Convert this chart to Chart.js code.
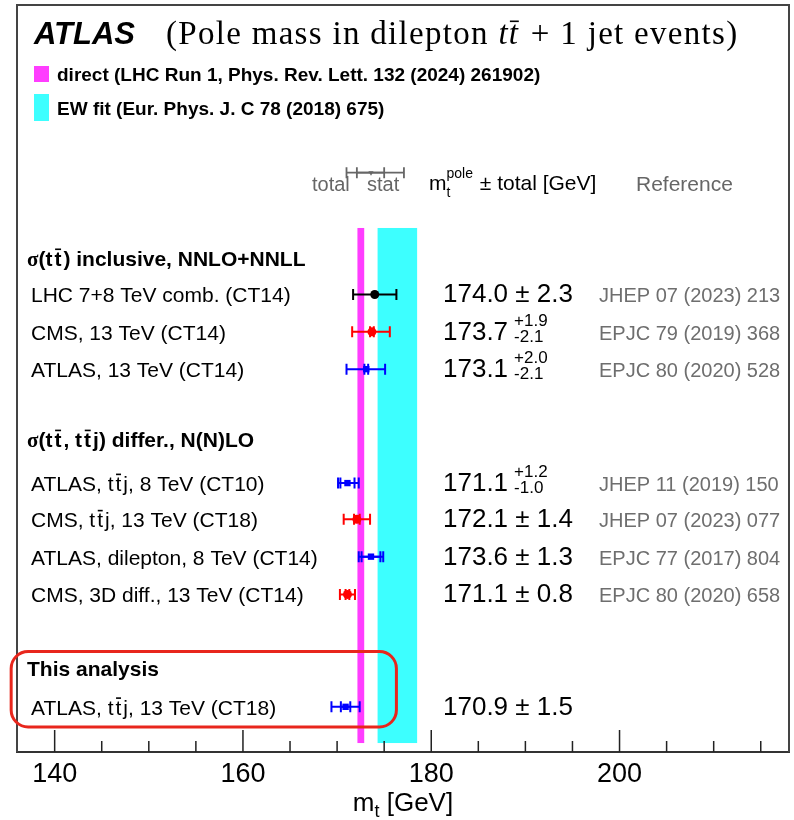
<!DOCTYPE html>
<html>
<head>
<meta charset="utf-8">
<script src="https://cdn.jsdelivr.net/npm/chart.js@4.4.1/dist/chart.umd.min.js"></script>
<style>
  html, body { margin: 0; padding: 0; background: #fff; }
  #wrap { width: 794px; height: 820px; }
</style>
</head>
<body>
<div id="wrap"><canvas id="massChart" width="794" height="820"></canvas></div>
<script>
// measurements of the top-quark pole mass (GeV)
const labels = [
    'LHC 7+8 TeV comb. (CT14)',
    'CMS, 13 TeV (CT14)',
    'ATLAS, 13 TeV (CT14)',
    'ATLAS, tt\u0304j, 8 TeV (CT10)',
    'CMS, tt\u0304j, 13 TeV (CT18)',
    'ATLAS, dilepton, 8 TeV (CT14)',
    'CMS, 3D diff., 13 TeV (CT14)',
    'ATLAS, tt\u0304j, 13 TeV (CT18)'
];
const masses = [174.0, 173.7, 173.1, 171.1, 172.1, 173.6, 171.1, 170.9];
const totalUp = [2.3, 1.9, 2.0, 1.2, 1.4, 1.3, 0.8, 1.5];
const totalDown = [2.3, 2.1, 2.1, 1.0, 1.4, 1.3, 0.8, 1.5];
const statErr = [0, 0.2, 0.2, 0.75, 0.3, 1.0, 0.2, 0.5];
const colors = ['#000000', '#ff0000', '#0000ff', '#0000ff', '#ff0000', '#0000ff', '#ff0000', '#0000ff'];
const markers = ['circle', 'circle', 'rect', 'rect', 'circle', 'rect', 'circle', 'rect'];
const references = [
    'JHEP 07 (2023) 213',
    'EPJC 79 (2019) 368',
    'EPJC 80 (2020) 528',
    'JHEP 11 (2019) 150',
    'JHEP 07 (2023) 077',
    'EPJC 77 (2017) 804',
    'EPJC 80 (2020) 658',
    ''
];
// vertical slot of each row (0 = top of frame, 20 = axis)
const rowPos = [7.75, 8.75, 9.75, 12.8, 13.77, 14.77, 15.78, 18.79];

const groupTitles = ['\u03c3(tt\u0304) inclusive, NNLO+NNLL', '\u03c3(tt\u0304, tt\u0304j) differ., N(N)LO', 'This analysis'];
const groupPos = [6.8, 11.65, 17.78];

// reference bands
const bandLabels = ['direct (LHC Run 1, Phys. Rev. Lett. 132 (2024) 261902)', 'EW fit (Eur. Phys. J. C 78 (2018) 675)'];
const bandCenters = [172.52, 176.4];
const bandErrors = [0.36, 2.1];
const bandColors = ['#ff3dff', '#3dffff'];

// legend symbol for total / stat
const keyMass = 173.6;
const keyTotal = [171.0, 177.1];
const keyStat = [172.1, 175.0];

// axis
const xMin = 136;
const xMax = 218;
const xMajorTicks = [140, 160, 180, 200];
const xMinorStep = 5;

const SANS = '"Liberation Sans", Arial, sans-serif';
const SERIF = '"Liberation Serif", "Times New Roman", serif';

// draws a string, putting a bar over characters followed by U+0304
function drawRich(ctx, str, x, y, font, sigmaFont, barGap) {
    const chars = Array.from(str);
    const gap = barGap || 0;
    let cx = x;
    let run = '';
    const flush = () => {
        if (!run) return;
        ctx.font = font;
        ctx.fillText(run, cx, y);
        cx += ctx.measureText(run).width;
        run = '';
    };
    for (let i = 0; i < chars.length; i++) {
        const ch = chars[i];
        if (ch === '\u0304') continue;
        const barred = chars[i + 1] === '\u0304';
        if (barred || (ch === '\u03c3' && sigmaFont)) {
            flush();
            ctx.font = ch === '\u03c3' && sigmaFont ? sigmaFont : font;
            if (barred) cx += gap;
            ctx.fillText(ch, cx, y);
            const m = ctx.measureText(ch);
            if (barred) {
                const h = ctx.measureText('t').actualBoundingBoxAscent;
                ctx.fillRect(cx + m.width * 0.1, y - h - 3.5, m.width * 0.85, 1.6);
                cx += gap;
            }
            cx += m.width;
        } else {
            run += ch;
        }
    }
    flush();
    return cx;
}

function errBar(ctx, x0, x1, y, color, lw, capH) {
    ctx.strokeStyle = color;
    ctx.lineWidth = lw;
    ctx.beginPath();
    ctx.moveTo(x0, y); ctx.lineTo(x1, y);
    ctx.moveTo(x0, y - capH / 2); ctx.lineTo(x0, y + capH / 2);
    ctx.moveTo(x1, y - capH / 2); ctx.lineTo(x1, y + capH / 2);
    ctx.stroke();
}

const decorPlugin = {
    id: 'decor',
    beforeDatasetsDraw(chart) {
        const {ctx, scales: {x, y}} = chart;
        ctx.save();
        // bands
        const yTop = y.getPixelForValue(5.97);
        const yBot = y.getPixelForValue(19.76);
        bandCenters.forEach((c, i) => {
            const x0 = x.getPixelForValue(c - bandErrors[i]);
            const x1 = x.getPixelForValue(c + bandErrors[i]);
            ctx.fillStyle = bandColors[i];
            ctx.fillRect(x0, yTop, x1 - x0, yBot - yTop);
        });
        // error bars
        masses.forEach((m, i) => {
            const py = y.getPixelForValue(rowPos[i]);
            errBar(ctx, x.getPixelForValue(m - totalDown[i]), x.getPixelForValue(m + totalUp[i]), py, colors[i], 2, 11);
            if (statErr[i] > 0) {
                errBar(ctx, x.getPixelForValue(m - statErr[i]), x.getPixelForValue(m + statErr[i]), py, colors[i], 2, 11);
            }
        });
        // key symbol
        const ky = y.getPixelForValue(4.49);
        errBar(ctx, x.getPixelForValue(keyTotal[0]), x.getPixelForValue(keyTotal[1]), ky, '#666', 1.8, 11);
        errBar(ctx, x.getPixelForValue(keyStat[0]), x.getPixelForValue(keyStat[1]), ky, '#666', 1.8, 11);
        ctx.restore();
    },
    afterDraw(chart) {
        const {ctx, chartArea: area, scales: {x, y}} = chart;
        ctx.save();
        ctx.textBaseline = 'alphabetic';

        // frame
        ctx.strokeStyle = '#444';
        ctx.lineWidth = 2;
        ctx.beginPath();
        ctx.moveTo(area.left, area.bottom);
        ctx.lineTo(area.left, area.top);
        ctx.lineTo(area.right, area.top);
        ctx.lineTo(area.right, area.bottom);
        ctx.stroke();

        // tick marks pointing inward
        ctx.strokeStyle = '#222';
        ctx.lineWidth = 1.5;
        ctx.beginPath();
        x.ticks.forEach(t => {
            const px = x.getPixelForValue(t.value);
            const len = xMajorTicks.includes(t.value) ? 22 : 11;
            ctx.moveTo(px, area.bottom);
            ctx.lineTo(px, area.bottom - len);
        });
        ctx.stroke();

        // title
        ctx.fillStyle = '#000';
        ctx.font = 'italic bold 31px ' + SANS;
        ctx.fillText('ATLAS', 34, 44);
        ctx.letterSpacing = '1.3px';
        let tx = 166;
        ctx.font = '33px ' + SERIF;
        ctx.fillText('(Pole mass in dilepton ', tx, 44);
        tx += ctx.measureText('(Pole mass in dilepton ').width;
        tx = drawRich(ctx, 'tt\u0304', tx, 44, 'italic 33px ' + SERIF);
        ctx.font = '33px ' + SERIF;
        ctx.fillText(' + 1 jet events)', tx + 2, 44);
        ctx.letterSpacing = '0px';

        // band legend
        const keyBoxes = [[34, 66, 15, 16], [34, 94, 15, 27]];
        bandLabels.forEach((lab, i) => {
            const [bx, by, bw, bh] = keyBoxes[i];
            ctx.fillStyle = bandColors[i];
            ctx.fillRect(bx, by, bw, bh);
            ctx.fillStyle = '#000';
            ctx.font = 'bold 19px ' + SANS;
            ctx.fillText(lab, 57, by + bh / 2 + 7);
        });

        // column headers
        ctx.fillStyle = '#666';
        ctx.font = '20px ' + SANS;
        ctx.fillText('total', 312, 191);
        ctx.fillText('stat', 367, 191);
        ctx.font = '21px ' + SANS;
        ctx.fillText('Reference', 636, 191);
        ctx.fillStyle = '#000';
        ctx.fillText('m', 429, 190);
        const mw = ctx.measureText('m').width;
        ctx.font = '14px ' + SANS;
        ctx.fillText('pole', 429 + mw, 178);
        const pw = ctx.measureText('pole').width;
        ctx.fillText('t', 429 + mw, 197);
        ctx.font = '21px ' + SANS;
        ctx.fillText(' \u00b1 total [GeV]', 429 + mw + pw + 1, 190);

        // group titles
        groupTitles.forEach((g, i) => {
            ctx.fillStyle = '#000';
            drawRich(ctx, g, 27, y.getPixelForValue(groupPos[i]) + 7, 'bold 21px ' + SANS, 'bold 21px ' + SERIF, 2);
        });

        // rows
        masses.forEach((m, i) => {
            const py = y.getPixelForValue(rowPos[i]);
            ctx.fillStyle = '#000';
            drawRich(ctx, labels[i], 31, py + 8, '21px ' + SANS, null, 2);
            ctx.font = '26px ' + SANS;
            if (totalUp[i] === totalDown[i]) {
                ctx.fillText(m.toFixed(1) + ' \u00b1 ' + totalUp[i].toFixed(1), 443, py + 8);
            } else {
                const vtxt = m.toFixed(1);
                ctx.fillText(vtxt, 443, py + 8);
                const sx = 443 + ctx.measureText(vtxt).width + 6;
                ctx.font = '17px ' + SANS;
                ctx.fillText('+' + totalUp[i].toFixed(1), sx, py - 6);
                ctx.fillText('-' + totalDown[i].toFixed(1), sx, py + 10);
            }
            ctx.fillStyle = '#6e6e6e';
            ctx.font = '20px ' + SANS;
            ctx.fillText(references[i], 599, py + 8);
        });

        // axis title
        ctx.fillStyle = '#000';
        ctx.font = '26px ' + SANS;
        const mW = ctx.measureText('m').width;
        ctx.font = '18px ' + SANS;
        const tW = ctx.measureText('t').width;
        ctx.font = '26px ' + SANS;
        const gW = ctx.measureText(' [GeV]').width;
        let ax = (area.left + area.right) / 2 - (mW + tW + gW) / 2;
        ctx.fillText('m', ax, 811);
        ctx.font = '18px ' + SANS;
        ctx.fillText('t', ax + mW, 817);
        ctx.font = '26px ' + SANS;
        ctx.fillText(' [GeV]', ax + mW + tW, 811);

        // highlight box around this analysis
        const bx0 = x.getPixelForValue(135.38);
        const bx1 = x.getPixelForValue(176.3);
        const by0 = y.getPixelForValue(17.31);
        const by1 = y.getPixelForValue(19.33);
        ctx.strokeStyle = '#e8261c';
        ctx.lineWidth = 3;
        ctx.beginPath();
        ctx.roundRect(bx0, by0, bx1 - bx0, by1 - by0, 17);
        ctx.stroke();

        ctx.restore();
    }
};

const points = masses.map((m, i) => ({x: m, y: rowPos[i]}));

new Chart(document.getElementById('massChart'), {
    type: 'scatter',
    data: {
        datasets: [{
            data: points,
            pointStyle: markers,
            pointRadius: 4.5,
            pointBackgroundColor: colors,
            pointBorderColor: colors,
            pointBorderWidth: 0
        }, {
            data: [{x: keyMass, y: 4.49}],
            pointStyle: 'triangle',
            rotation: 180,
            pointRadius: 3,
            pointBackgroundColor: '#666',
            pointBorderWidth: 0
        }]
    },
    options: {
        responsive: false,
        animation: false,
        layout: {padding: {left: 17, right: 5, top: 5, bottom: 2}},
        plugins: {legend: {display: false}, tooltip: {enabled: false}},
        scales: {
            x: {
                type: 'linear',
                min: xMin,
                max: xMax,
                afterBuildTicks: scale => {
                    const ticks = [];
                    for (let v = xMajorTicks[0]; v < xMax; v += xMinorStep) ticks.push({value: v});
                    scale.ticks = ticks;
                },
                afterFit: scale => { scale.height = 66; },
                ticks: {
                    autoSkip: false,
                    maxRotation: 0,
                    padding: 6,
                    color: '#000',
                    font: {family: SANS, size: 27},
                    callback: v => xMajorTicks.includes(v) ? String(v) : ''
                },
                grid: {display: true, drawOnChartArea: false, drawTicks: false},
                border: {display: true, color: '#333', width: 2}
            },
            y: {type: 'linear', min: 0, max: 20, reverse: true, display: false}
        }
    },
    plugins: [decorPlugin]
});
</script>
</body>
</html>
